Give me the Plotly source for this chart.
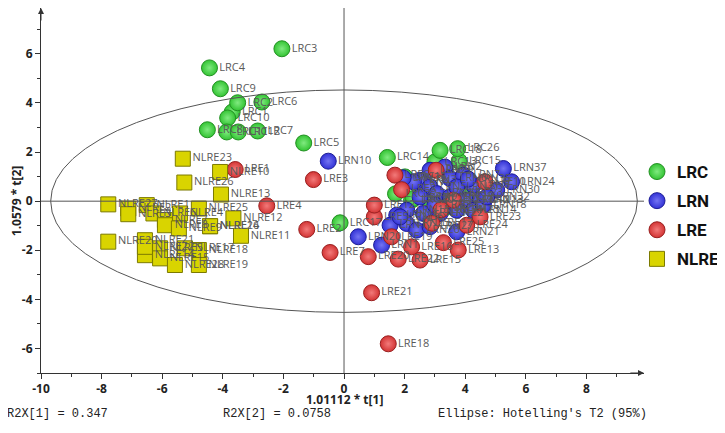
import plotly.graph_objects as go

# ---------------- data ----------------
lrc_names = ["LRC1", "LRC2", "LRC3", "LRC4", "LRC5", "LRC6", "LRC7", "LRC8", "LRC9", "LRC10",
             "LRC11", "LRC12", "LRC13", "LRC14", "LRC15", "LRC16", "LRC17", "LRC18", "LRC19",
             "LRC20", "LRC21", "LRC22", "LRC23", "LRC24", "LRC25", "LRC26"]
lrc_x = [-3.69, -3.51, -2.05, -4.44, -1.33, -2.71, -2.85, -4.51, -4.08, -3.84,
         -3.87, -3.49, 3.0, 1.43, 3.8, 2.01, -0.13, 3.17, 3.6,
         2.23, 2.29, 1.7, 3.88, 3.3, 2.8, 3.75]
lrc_y = [3.63, 4.01, 6.21, 5.43, 2.37, 4.04, 2.86, 2.91, 4.58, 3.39,
         2.82, 2.82, 1.6, 1.78, 1.63, 0.99, -0.88, 2.07, 0.2,
         0.04, 0.11, 0.3, 0.31, -0.3, 0.1, 2.14]

lrn_names = ["LRN%d" % i for i in range(1, 38)]
lrn_x = [1.24, 3.33, 2.51, 2.29, 2.84, 3.5, 3.94, 4.27, 2.51, -0.52,
         3.06, 4.05, 4.49, 4.27, 2.07, 1.74, 1.52, 4.6, 2.62, 0.47,
         3.72, 3.17, 3.72, 5.53, 2.07, 2.4, 2.84, 3.5, 2.84, 5.04,
         3.72, 4.71, 1.95, 3.0, 4.1, 1.85, 5.26]
lrn_y = [-1.79, 1.39, 0.85, 0.79, 0.58, 0.92, 1.06, 0.65, 0.17, 1.63,
         0.31, 0.04, 0.04, -0.37, -0.37, -0.57, -0.98, -0.16, -0.5, -1.45,
         -1.25, -0.5, -0.37, 0.79, -0.91, -1.18, -1.04, 0.17, 1.26, 0.45,
         0.58, 0.17, 0.95, -0.15, 0.9, -0.64, 1.33]

lre_names = ["LRE%d" % i for i in range(1, 26)]
lre_x = [-3.59, -1.23, -1.01, -2.55, 1.0, 1.68, -0.46, 1.9, 3.04, 4.65,
         3.61, 1.0, 3.77, 3.2, 2.51, 2.23, 2.9, 1.46, 1.57, 0.8,
         0.91, 1.79, 4.49, 4.05, 3.28]
lre_y = [1.29, -1.15, 0.88, -0.19, -0.64, 1.06, -2.09, 0.47, 1.26, 0.79,
         0.04, -0.16, -1.99, -0.35, -2.4, -1.86, -0.9, -5.81, -1.45, -2.26,
         -3.73, -2.36, -0.64, -0.98, -1.69]

nlre_names = ["NLRE1", "NLRE2", "NLRE3", "NLRE4", "NLRE5", "NLRE6", "NLRE7", "NLRE8", "NLRE9",
              "NLRE10", "NLRE11", "NLRE12", "NLRE13", "NLRE14", "NLRE15", "NLRE16", "NLRE17",
              "NLRE18", "NLRE19", "NLRE20", "NLRE21", "NLRE22", "NLRE23", "NLRE24", "NLRE25",
              "NLRE26", "NLRE27", "NLRE28"]
nlre_x = [-6.51, -7.12, -7.12, -5.41, -6.07, -6.29, -5.91, -5.91, -5.45,
          -4.09, -3.4, -3.65, -4.06, -6.57, -6.07, -4.42, -5.25,
          -4.79, -4.79, -7.78, -6.57, -6.57, -5.32, -4.42, -4.79,
          -5.27, -7.78, -5.58]
nlre_y = [-0.16, -0.3, -0.53, -0.5, -1.92, -0.5, -0.77, -0.98, -1.11,
          1.19, -1.41, -0.7, 0.27, -2.2, -2.33, -1.02, -1.92,
          -1.99, -2.6, -1.65, -1.59, -1.86, 1.73, -1.02, -0.3,
          0.76, -0.13, -2.6]

x_ticks = [-10, -8, -6, -4, -2, 0, 2, 4, 6, 8]
y_ticks = [-6, -4, -2, 0, 2, 4, 6]

ellipse_a = 9.68
ellipse_b = 4.53

# ---------------- figure ----------------
# the page places the figure 8 px from the window's top-left corner
OFF = 8
W, H = 717, 425
L, R, T, B = 33, 81, 0, 60
PW, PH = W - L - R, H - T - B

def px_x(p):
    return (p - OFF - L) / PW

def px_y(p):
    return (H - B - (p - OFF)) / PH

fig = go.Figure()

groups = [
    ("LRC", lrc_names, lrc_x, lrc_y, "circle", 16, "#33c433", "#80ea80", "#239023"),
    ("LRN", lrn_names, lrn_x, lrn_y, "circle", 16, "#3232d6", "#7474f2", "#1e1e96"),
    ("LRE", lre_names, lre_x, lre_y, "circle", 16, "#d33434", "#f27a7a", "#992020"),
    ("NLRE", nlre_names, nlre_x, nlre_y, "square", 15, "#d9d400", "#eeea30", "#7c7a00"),
]

for name, names, xs, ys, sym, size, col, center, edge in groups:
    mk = dict(symbol=sym, size=size, color=col, line=dict(color=edge, width=1))
    if sym == "circle":
        mk["gradient"] = dict(type="radial", color=center)
    fig.add_trace(go.Scatter(x=xs, y=ys, mode="markers", name=name, text=names,
                             hoverinfo="text", marker=mk, legendgroup=name))

for name, names, xs, ys, sym, size, col, center, edge in groups:
    fig.add_trace(go.Scatter(x=xs, y=ys, mode="markers+text", text=names,
                             textposition="middle right", showlegend=False, hoverinfo="skip",
                             marker=dict(size=14, opacity=0),
                             textfont=dict(family="Open Sans", size=11, color="#595959")))

# ellipse and zero lines
fig.add_shape(type="circle", xref="x", yref="y", x0=-ellipse_a, x1=ellipse_a,
              y0=-ellipse_b, y1=ellipse_b, line=dict(color="#555555", width=1))
fig.add_shape(type="line", xref="x", yref="y", x0=-10, x1=9.9, y0=0, y1=0,
              line=dict(color="#555555", width=1))
fig.add_shape(type="line", xref="x", yref="y", x0=0, x1=0, y0=-7, y1=7.87,
              line=dict(color="#555555", width=1))

# axis arrows
fig.add_annotation(x=9.9, y=-7, ax=9.4, ay=-7, xref="x", yref="y", axref="x", ayref="y",
                   text="", showarrow=True, arrowhead=2, arrowsize=1.2, arrowwidth=1,
                   arrowcolor="#333333")
fig.add_annotation(x=-10, y=7.87, ax=-10, ay=7.3, xref="x", yref="y", axref="x", ayref="y",
                   text="", showarrow=True, arrowhead=2, arrowsize=1.2, arrowwidth=1,
                   arrowcolor="#333333")

# axis titles
fig.add_annotation(x=0, y=px_y(399), xref="x", yref="paper", text="<b>1.01112 * t[1]</b>",
                   showarrow=False, font=dict(family="Open Sans", size=12, color="#222222"),
                   xanchor="center", yanchor="middle")
fig.add_annotation(x=px_x(16), y=0, xref="paper", yref="y", text="<b>1.0579 * t[2]</b>",
                   showarrow=False, textangle=-90,
                   font=dict(family="Open Sans", size=12, color="#222222"),
                   xanchor="center", yanchor="middle")

# bottom information texts
mono = dict(family="Liberation Mono", size=12, color="#222222")
for txt, left in [("R2X[1] = 0.347", 5), ("R2X[2] = 0.0758", 221),
                  ("Ellipse: Hotelling's T2 (95%)", 436)]:
    fig.add_annotation(x=px_x(left), y=px_y(414), xref="paper", yref="paper", text=txt,
                       showarrow=False, font=mono, xanchor="left", yanchor="middle")

fig.update_layout(
    width=W, height=H,
    margin=dict(l=L, r=R, t=T, b=B, autoexpand=False),
    plot_bgcolor="white", paper_bgcolor="white",
    showlegend=True,
    legend=dict(x=px_x(637), y=px_y(154), xanchor="left", yanchor="top",
                font=dict(family="Roboto", size=17, color="#111111", weight="bold"),
                bgcolor="rgba(0,0,0,0)", itemsizing="trace", traceorder="grouped",
                tracegroupgap=4, itemwidth=30),
    xaxis=dict(range=[-10, 9.9], showgrid=False, zeroline=False, showline=True,
               linecolor="#333333", linewidth=1, ticks="outside", ticklen=5,
               tickcolor="#333333", tickvals=x_ticks,
               ticktext=[str(v) for v in x_ticks],
               tickfont=dict(family="Open Sans", size=12, color="#222222", weight="bold"),
               minor=dict(dtick=1, ticks="outside", ticklen=3, tickcolor="#333333"),
               ticklabelstandoff=0),
    yaxis=dict(range=[-7, 7.87], showgrid=False, zeroline=False, showline=True,
               linecolor="#333333", linewidth=1, ticks="outside", ticklen=5,
               tickcolor="#333333", tickvals=y_ticks,
               ticktext=[str(v) for v in y_ticks],
               tickfont=dict(family="Open Sans", size=12, color="#222222", weight="bold"),
               minor=dict(dtick=1, ticks="outside", ticklen=3, tickcolor="#333333")),
)

fig.write_html("out.html")
